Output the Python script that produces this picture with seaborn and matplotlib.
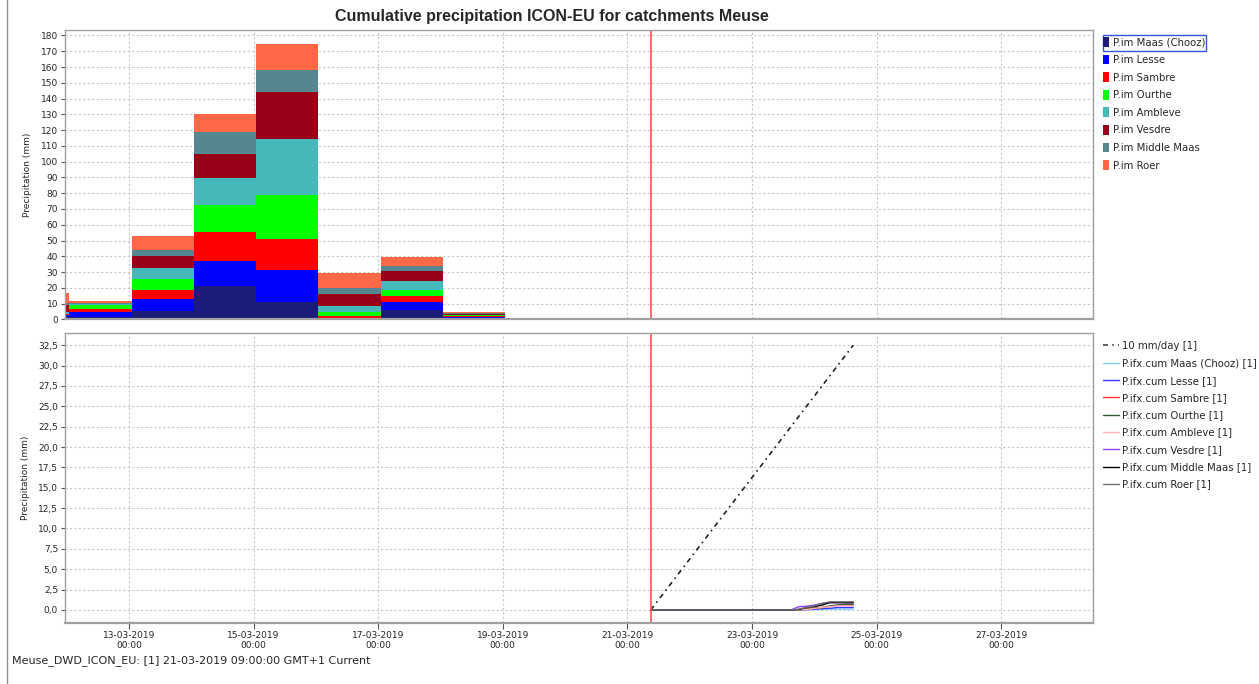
import matplotlib
matplotlib.use("Agg")
import matplotlib.pyplot as plt
import matplotlib.dates as mdates
from matplotlib.patches import Patch, Rectangle
from matplotlib.lines import Line2D
from matplotlib.ticker import FuncFormatter, MultipleLocator
import seaborn as sns
import pandas as pd
import datetime as dt

catchments = ["Maas (Chooz)", "Lesse", "Sambre", "Ourthe", "Ambleve", "Vesdre", "Middle Maas", "Roer"]
bar_colors = ["#1b1b78", "#0000ff", "#ff0000", "#00ff00", "#45b8ba", "#98001a", "#568791", "#ff6845"]
line_colors = ["#7fd0ff", "#3535ff", "#ff3030", "#2f5a2f", "#ffb0b8", "#9040ff", "#000000", "#707070"]

# daily precipitation per catchment (mm), each period starts at 01:00
day_start = [dt.datetime(2019, 3, d, 1) for d in range(11, 19)]
maas =    [1.3, 1.5, 5.3, 20.9, 10.8, 0.5, 6.1, 0.6]
lesse =   [1.4, 3.4, 7.4, 16.1, 20.3, 0.5, 4.7, 1.1]
sambre =  [0.5, 1.4, 5.7, 18.4, 19.9, 1.1, 3.8, 0.6]
ourthe =  [0.4, 2.8, 7.2, 17.4, 28.1, 2.3, 3.8, 0.2]
ambleve = [1.3, 0.4, 6.8, 17.1, 35.5, 3.9, 6.1, 0.5]
vesdre =  [4.2, 0.4, 7.8, 15.2, 29.4, 8.0, 6.4, 0.6]
middle =  [1.5, 0.7, 3.6, 13.6, 14.0, 3.4, 3.2, 0.6]
roer =    [6.3, 0.8, 9.1, 11.4, 16.5, 9.7, 5.2, 0.7]
daily = [maas, lesse, sambre, ourthe, ambleve, vesdre, middle, roer]

# cumulative forecast (mm)
t0 = dt.datetime(2019, 3, 21, 9)
fc_times = [t0] + [dt.datetime(2019, 3, 23, 15) + dt.timedelta(hours=3 * k) for k in range(9)]
cum_maas =    [0, 0, 0, 0, 0.05, 0.1, 0.1, 0.1, 0.1, 0.1]
cum_lesse =   [0, 0, 0, 0.05, 0.1, 0.15, 0.2, 0.3, 0.3, 0.3]
cum_sambre =  [0, 0, 0, 0.1, 0.2, 0.3, 0.4, 0.6, 0.6, 0.6]
cum_ourthe =  [0, 0, 0, 0.1, 0.2, 0.3, 0.5, 0.6, 0.7, 0.7]
cum_ambleve = [0, 0, 0, 0.05, 0.2, 0.3, 0.4, 0.5, 0.5, 0.5]
cum_vesdre =  [0, 0, 0.4, 0.45, 0.6, 0.8, 0.9, 0.9, 0.9, 0.9]
cum_middle =  [0, 0, 0.05, 0.3, 0.4, 0.6, 0.9, 0.9, 0.9, 0.9]
cum_roer =    [0, 0, 0.1, 0.3, 0.5, 0.8, 1.0, 1.0, 1.0, 1.0]
cums = [cum_maas, cum_lesse, cum_sambre, cum_ourthe, cum_ambleve, cum_vesdre, cum_middle, cum_roer]

ref_times = [t0, dt.datetime(2019, 3, 24, 15)]
ref_vals = [0.0, 32.5]
tick_days = [13, 15, 17, 19, 21, 23, 25, 27]

rows = []
for name, vals in zip(catchments, daily):
    for s, v in zip(day_start, vals):
        rows.append({"t": mdates.date2num(s + dt.timedelta(hours=12)), "mm": v, "catchment": name})
bars = pd.DataFrame(rows)
edges = [mdates.date2num(s) for s in day_start] + [mdates.date2num(day_start[-1] + dt.timedelta(days=1))]

rows = []
for name, vals in zip(catchments, cums):
    for s, v in zip(fc_times, vals):
        rows.append({"t": mdates.date2num(s), "mm": v, "catchment": name})
cum = pd.DataFrame(rows)

sns.set_style("white")
plt.rcParams["font.family"] = ["DejaVu Sans"]

fig = plt.figure(figsize=(12.59, 6.84), dpi=100)
ax1 = fig.add_axes([0.0516, 0.533, 0.8165, 0.423])
ax2 = fig.add_axes([0.0516, 0.0892, 0.8165, 0.424], sharex=ax1)

sns.histplot(data=bars, x="t", weights="mm", hue="catchment", hue_order=catchments[::-1],
             palette=dict(zip(catchments, bar_colors)), multiple="stack", bins=edges,
             element="bars", linewidth=0, alpha=1, legend=False, ax=ax1)

sns.lineplot(x=[mdates.date2num(t) for t in ref_times], y=ref_vals, ax=ax2, color="#222222",
             lw=1.2, linestyle=(0, (3, 2.5, 1, 2.5)))
sns.lineplot(data=cum, x="t", y="mm", hue="catchment", hue_order=catchments,
             palette=dict(zip(catchments, line_colors)), estimator=None, lw=1,
             legend=False, ax=ax2)

xmin = mdates.date2num(dt.datetime(2019, 3, 11, 23, 20))
xmax = mdates.date2num(dt.datetime(2019, 3, 28, 11, 20))
ax2.set_xlim(xmin, xmax)
ax1.set_ylim(0, 183.4)
ax2.set_ylim(-1.6, 34.0)

for ax in (ax1, ax2):
    ax.axvline(mdates.date2num(t0), color="#ff5050", lw=1.2)
    ax.grid(True, ls=(0, (2, 2)), color="#c8c8c8", lw=0.8)
    ax.set_axisbelow(True)
    for sp in ax.spines.values():
        sp.set_color("#a0a0a0")
        sp.set_linewidth(1)
    ax.spines["bottom"].set_linewidth(1.6)
    ax.set_ylabel("Precipitation (mm)", fontsize=6.5, labelpad=6)
    ax.set_xlabel("")
    ax.tick_params(axis="y", labelsize=6.5, length=3, direction="out", color="#555555",
                   left=True, pad=2)

ax1.yaxis.set_major_locator(MultipleLocator(10))
ax2.yaxis.set_major_locator(MultipleLocator(2.5))
ax2.yaxis.set_major_formatter(FuncFormatter(lambda v, p: f"{v:.1f}".replace(".", ",")))

ax2.set_xticks([mdates.date2num(dt.datetime(2019, 3, d)) for d in tick_days])
ax2.xaxis.set_major_formatter(mdates.DateFormatter("%d-%m-%Y\n%H:%M"))
ax2.tick_params(axis="x", labelsize=6.5, length=4, direction="out", color="#555555",
                bottom=True, pad=1.5)
ax1.tick_params(axis="x", labelbottom=False, length=0)

# legends
bar_handles = [Patch(facecolor=c, edgecolor="none") for c in bar_colors]
fig.legend(bar_handles, ["P.im " + n for n in catchments], loc="upper left",
           bbox_to_anchor=(1101 / 1259, 1 - 35 / 684), frameon=False, fontsize=7.3,
           handlelength=0.55, handleheight=1.1, handletextpad=0.4, labelspacing=0.72,
           borderaxespad=0, borderpad=0.2)
fig.patches.append(Rectangle((1103 / 1259, 1 - 51 / 684), 103 / 1259, 16 / 684,
                             transform=fig.transFigure, fill=False, edgecolor="#3355dd", lw=1))

line_handles = [Line2D([], [], color="#444444", lw=1.2, linestyle=(0, (3, 2.5, 1, 2.5)))]
line_handles += [Line2D([], [], color=c, lw=1) for c in line_colors]
line_labels = ["10 mm/day [1]"] + ["P.ifx.cum " + n + " [1]" for n in catchments]
fig.legend(line_handles, line_labels, loc="upper left",
           bbox_to_anchor=(1101 / 1259, 1 - 339 / 684), frameon=False, fontsize=7.3,
           handlelength=1.6, handletextpad=0.3, labelspacing=0.72, borderaxespad=0, borderpad=0.2)

fig.text(552 / 1259, 1 - 16 / 684, "Cumulative precipitation ICON-EU for catchments Meuse",
         ha="center", va="center", fontsize=11.5, fontweight="bold", family=["Liberation Sans"])
fig.text(12 / 1259, 1 - 661 / 684, "Meuse_DWD_ICON_EU: [1] 21-03-2019 09:00:00 GMT+1 Current",
         ha="left", va="center", fontsize=8)
fig.lines.append(Line2D([7 / 1259, 7 / 1259], [0, 1], transform=fig.transFigure,
                        color="#909090", lw=1))

fig.savefig("out.png", dpi=100)
